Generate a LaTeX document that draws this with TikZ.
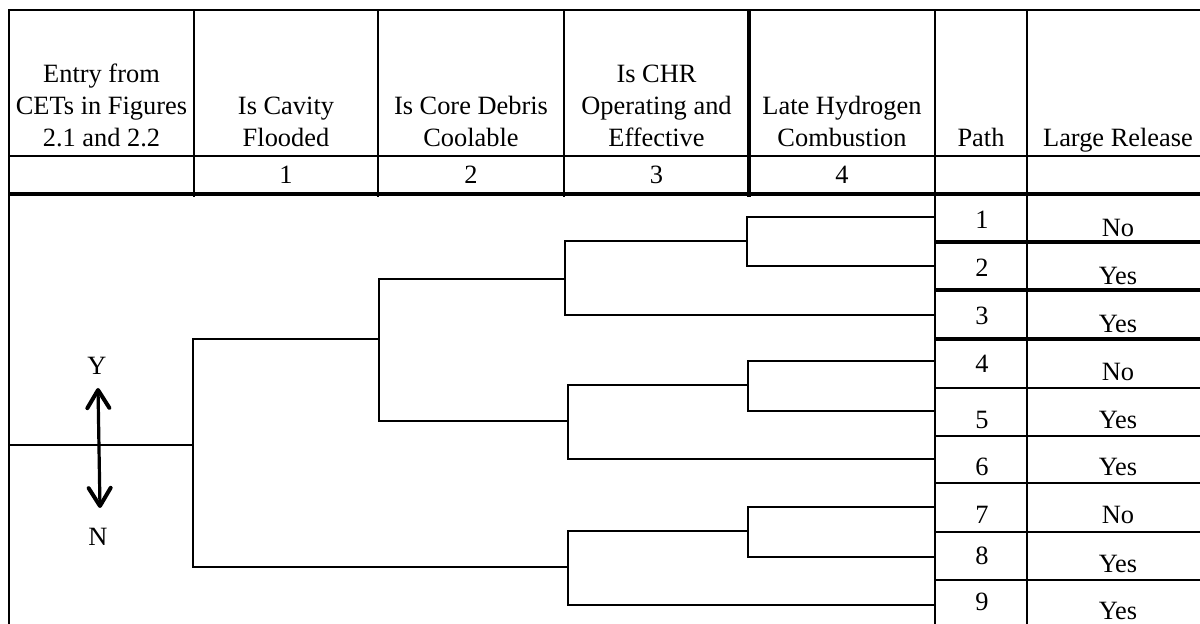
\documentclass[tikz,border=0pt]{standalone}
\usepackage{fontspec}
\setmainfont{Liberation Serif}
\usetikzlibrary{arrows.meta}
\tikzset{
  gridthin/.style={line width=0.75pt},
  gridthick/.style={line width=1.6pt},
  branch/.style={line width=0.75pt},
  txt/.style={font=\fontsize{13.2pt}{16pt}\selectfont, inner sep=0pt},
  head/.style={txt, align=center, anchor=south},
  cell/.style={txt, anchor=base},
  barb/.tip={Straight Barb[length=9pt,width=11pt,line width=2pt,round]},
  yn/.style={line width=1.6pt, barb-barb}
}
\begin{document}
\begin{tikzpicture}[x=0.5pt,y=-0.5pt]
\useasboundingbox (0,0) rectangle (1200,624);
\clip (0,0) rectangle (1200,624);

% table frame and rules
\draw[gridthin] (1210,10) -- (9,10) -- (9,630);
\draw[gridthin] (9,156) -- (1210,156);
\draw[gridthick] (9,194) -- (1210,194);
\foreach \x in {194,378,564} \draw[gridthin] (\x,10) -- (\x,197);
\draw[gridthick] (749,10) -- (749,197);
\foreach \x in {935,1027} \draw[gridthin] (\x,10) -- (\x,630);
\foreach \y in {242,290,339} \draw[gridthick] (935,\y) -- (1210,\y);
\foreach \y in {388,436,483,532,580} \draw[gridthin] (935,\y) -- (1210,\y);

% column headings
\node[head] (h0) at (101.5,147) {Entry from\\CETs in Figures\\2.1 and 2.2};
\node[head] (h1) at (286,147) {Is Cavity\\Flooded};
\node[head] (h2) at (471,147) {Is Core Debris\\Coolable};
\node[head] (h3) at (656.5,147) {Is CHR\\Operating and\\Effective};
\node[head] (h4) at (842,147) {Late Hydrogen\\Combustion};
\node[cell] (hp) at (981,147) {Path};
\node[cell] (hr) at (1118,147) {Large Release};
\node[cell] (n1) at (286,184) {1};
\node[cell] (n2) at (471,184) {2};
\node[cell] (n3) at (656.5,184) {3};
\node[cell] (n4) at (842,184) {4};

% path numbers and outcomes
\foreach \p/\yp/\r/\yr in {1/229/No/237, 2/277/Yes/285, 3/325/Yes/333,
    4/373/No/381, 5/429/Yes/429, 6/476/Yes/476, 7/524/No/524,
    8/565/Yes/573, 9/611/Yes/620} {
  \node[cell] (p\p) at (982,\yp) {\p};
  \node[cell] (r\p) at (1118,\yr) {\r};
}

% event tree branches
\coordinate (entry) at (9,445);
\coordinate (A) at (193,445);
\coordinate (B) at (379,339);
\coordinate (C) at (568,567);
\coordinate (BU) at (565,279);
\coordinate (BL) at (568,421);
\coordinate (BUU) at (747,241);
\coordinate (BLU) at (748,385);
\coordinate (CU) at (748,531);
\coordinate (l1) at (935,217);
\coordinate (l2) at (935,266);
\coordinate (l3) at (935,315);
\coordinate (l4) at (935,361);
\coordinate (l5) at (935,411);
\coordinate (l6) at (935,459);
\coordinate (l7) at (935,507);
\coordinate (l8) at (935,557);
\coordinate (l9) at (935,605);

\draw[branch] (entry) -- (A);
\draw[branch] (A) |- (B);
\draw[branch] (A) |- (C);
\draw[branch] (B) |- (BU);
\draw[branch] (B) |- (BL);
\draw[branch] (BU) |- (BUU);
\draw[branch] (BU) |- (l3);
\draw[branch] (BUU) |- (l1);
\draw[branch] (BUU) |- (l2);
\draw[branch] (BL) |- (BLU);
\draw[branch] (BL) |- (l6);
\draw[branch] (BLU) |- (l4);
\draw[branch] (BLU) |- (l5);
\draw[branch] (C) |- (CU);
\draw[branch] (C) |- (l9);
\draw[branch] (CU) |- (l7);
\draw[branch] (CU) |- (l8);

% yes / no legend
\node[cell] (Y) at (97,375) {Y};
\node[cell] (N) at (98,546) {N};
\coordinate (ytip) at (98,388);
\coordinate (ntip) at (100,508);
\draw[yn] (ytip) -- (ntip);
\end{tikzpicture}
\end{document}
